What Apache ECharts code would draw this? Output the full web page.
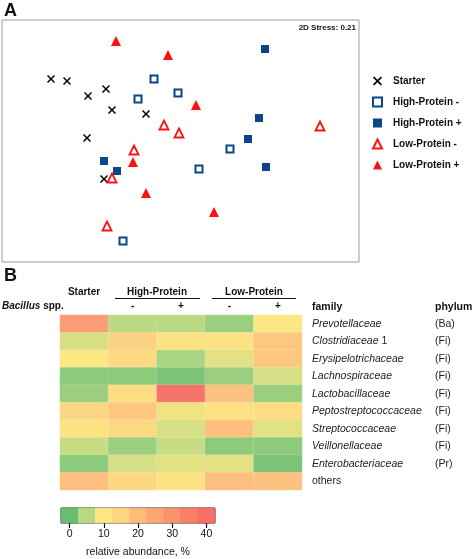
<!DOCTYPE html>
<html>
<head>
<meta charset="utf-8">
<script src="https://cdn.jsdelivr.net/npm/echarts@6/dist/echarts.min.js"></script>
<style>html,body{margin:0;padding:0;background:#fff;}#c{width:472px;height:559px;}</style>
</head>
<body>
<div id="c"></div>
<script>
// ---- Panel A: NMDS coordinates ----
const starter = [[-1.29,0.61],[-1.13,0.59],[-0.92,0.44],[-0.74,0.51],[-0.68,0.30],[-0.34,0.26],[-0.93,0.02],[-0.76,-0.39]];
const highProtMinus = [[-0.26,0.61],[-0.02,0.47],[-0.42,0.41],[0.50,-0.09],[0.19,-0.29],[-0.57,-1.01]];
const highProtPlus = [[-0.76,-0.21],[-0.63,-0.31],[0.85,0.91],[0.79,0.22],[0.68,0.01],[0.86,-0.27]];
const lowProtMinus = [[-0.16,0.15],[-0.01,0.07],[-0.46,-0.10],[-0.68,-0.38],[-0.73,-0.86],[1.40,0.14]];
const lowProtPlus = [[-0.64,0.99],[-0.12,0.85],[0.16,0.35],[-0.47,-0.22],[-0.34,-0.53],[0.34,-0.72]];
const groupNames = ['Starter','High-Protein -','High-Protein +','Low-Protein -','Low-Protein +'];

// ---- Panel B: heatmap ----
const columns = ['Starter','HP-','HP+','LP-','LP+'];
const signLabels = ['', '-', '+', '-', '+'];
const families = ['Prevotellaceae','Clostridiaceae 1','Erysipelotrichaceae','Lachnospiraceae','Lactobacillaceae','Peptostreptococcaceae','Streptococcaceae','Veillonellaceae','Enterobacteriaceae','others'];
const phyla = ['(Ba)','(Fi)','(Fi)','(Fi)','(Fi)','(Fi)','(Fi)','(Fi)','(Pr)',''];
// relative abundance (%) per family, columns: Starter, HP-, HP+, LP-, LP+
const abundance = [
  [28, 5, 5, 3, 10],
  [7, 16, 11, 11, 18],
  [10, 14, 4, 8, 18],
  [2, 2, 1, 3, 7],
  [3, 13, 40, 19, 3],
  [15, 18, 9, 12, 13],
  [11, 14, 7, 20, 8],
  [6, 3, 6, 2, 2],
  [2, 7, 8, 8, 1],
  [20, 15, 11, 20, 19]
];
const scaleSteps = ['0','5','10','15','20','25','30','35','40'];
const scaleColors = ['#62b96a','#b5d67b','#fde47a','#fdd27a','#fdb873','#fca26c','#f98c66','#f7795f','#f56760'];

const FONT = 'Liberation Sans, Arial, sans-serif';
const heatData = [];
abundance.forEach((row, r) => row.forEach((v, c) => heatData.push([c, r, v])));
const barData = scaleSteps.map((s, i) => [i, 0, Number(s)]);

const blue = '#0b458a', red = '#ff1010';
const xPath = 'path://M1.3,0 L5,3.7 L8.7,0 L10,1.3 L6.3,5 L10,8.7 L8.7,10 L5,6.3 L1.3,10 L0,8.7 L3.7,5 L0,1.3 Z';

const chart = echarts.init(document.getElementById('c'), null, {renderer: 'canvas'});
chart.setOption({
  animation: false,
  textStyle: {fontFamily: FONT},
  grid: [
    {left: 2, top: 20, width: 357, height: 242, show: true, borderColor: '#999', borderWidth: 1, backgroundColor: '#fff'},
    {left: 60, top: 315, width: 242, height: 175},
    {left: 61, top: 508, width: 154, height: 18, show: true, borderColor: '#222', borderWidth: 1}
  ],
  xAxis: [
    {gridIndex: 0, type: 'value', min: -1.78, max: 1.79, show: false},
    {gridIndex: 1, type: 'category', data: columns, position: 'top',
      axisLine: {show: false}, axisTick: {show: false},
      axisLabel: {margin: 4, fontWeight: 'bold', fontSize: 10, color: '#111',
        formatter: (v, i) => signLabels[i]}},
    {gridIndex: 2, type: 'category', data: scaleSteps, position: 'bottom',
      axisLine: {show: false},
      axisTick: {show: true, alignWithLabel: true, length: 5, lineStyle: {color: '#111', width: 1.2},
        interval: (i) => i % 2 === 0},
      axisLabel: {margin: 6, fontSize: 10.5, color: '#111', interval: (i) => i % 2 === 0},
      name: 'relative abundance, %', nameLocation: 'middle', nameGap: 24,
      nameTextStyle: {fontSize: 10.5, color: '#111'}}
  ],
  yAxis: [
    {gridIndex: 0, type: 'value', min: -1.22, max: 1.2, show: false},
    {gridIndex: 1, type: 'category', data: families, inverse: true, position: 'right',
      axisLine: {show: false}, axisTick: {show: false},
      axisLabel: {margin: 10, align: 'left', fontSize: 10.5, color: '#222',
        formatter: (v) => {
          if (v === 'others') return '{n|others}';
          const m = v.match(/^(\S+)(\s+\d+)$/);
          if (m) return '{i|' + m[1] + '}{n|' + m[2] + '}';
          return '{i|' + v + '}';
        },
        rich: {i: {fontStyle: 'italic', fontSize: 10.5, color: '#222', fontFamily: FONT},
               n: {fontSize: 10.5, color: '#222', fontFamily: FONT}}}},
    {gridIndex: 1, type: 'category', data: phyla, inverse: true, position: 'right', offset: 123,
      axisLine: {show: false}, axisTick: {show: false},
      axisLabel: {margin: 10, align: 'left', fontSize: 10.5, color: '#222'}},
    {gridIndex: 2, type: 'category', data: [''], show: false}
  ],
  visualMap: [{
    type: 'continuous', show: false, min: 0, max: 40, dimension: 2,
    seriesIndex: [5, 6], inRange: {color: scaleColors}
  }],
  legend: {
    orient: 'vertical', left: 367, top: 70, itemWidth: 9, itemHeight: 9, itemGap: 9,
    data: groupNames,
    textStyle: {fontSize: 10, lineHeight: 12, fontWeight: 'bold', color: '#111', fontFamily: FONT, padding: [0, 0, 0, 6]}
  },
  series: [
    {name: groupNames[0], type: 'scatter', xAxisIndex: 0, yAxisIndex: 0, data: starter,
      symbol: xPath, symbolSize: 8, itemStyle: {color: '#000', opacity: 1}},
    {name: groupNames[1], type: 'scatter', xAxisIndex: 0, yAxisIndex: 0, data: highProtMinus,
      symbol: 'rect', symbolSize: 7, itemStyle: {color: '#fff', borderColor: blue, borderWidth: 2, opacity: 1}},
    {name: groupNames[2], type: 'scatter', xAxisIndex: 0, yAxisIndex: 0, data: highProtPlus,
      symbol: 'rect', symbolSize: 8, itemStyle: {color: blue, opacity: 1}},
    {name: groupNames[3], type: 'scatter', xAxisIndex: 0, yAxisIndex: 0, data: lowProtMinus,
      symbol: 'triangle', symbolSize: 9, itemStyle: {color: '#fff', borderColor: red, borderWidth: 1.8, opacity: 1}},
    {name: groupNames[4], type: 'scatter', xAxisIndex: 0, yAxisIndex: 0, data: lowProtPlus,
      symbol: 'triangle', symbolSize: 10, itemStyle: {color: red, opacity: 1}},
    {type: 'heatmap', xAxisIndex: 1, yAxisIndex: 1, data: heatData,
      itemStyle: {borderColor: 'rgba(255,255,255,0.35)', borderWidth: 0.5, opacity: 0.92}},
    {type: 'heatmap', xAxisIndex: 2, yAxisIndex: 3, data: barData,
      itemStyle: {opacity: 0.95}}
  ],
  graphic: [
    {type: 'text', left: 4, top: 2, style: {text: 'A', font: 'bold 18px ' + FONT, fill: '#111'}},
    {type: 'text', left: 4, top: 267, style: {text: 'B', font: 'bold 18px ' + FONT, fill: '#111'}},
    {type: 'text', right: 116, top: 24, style: {text: '2D Stress: 0.21', font: 'bold 8px ' + FONT, fill: '#111', textAlign: 'right'}},
    {type: 'text', x: 84, y: 292, style: {text: 'Starter', font: 'bold 10px ' + FONT, fill: '#111', align: 'center', verticalAlign: 'middle'}},
    {type: 'text', x: 157, y: 292, style: {text: 'High-Protein', font: 'bold 10px ' + FONT, fill: '#111', align: 'center', verticalAlign: 'middle'}},
    {type: 'text', x: 254, y: 292, style: {text: 'Low-Protein', font: 'bold 10px ' + FONT, fill: '#111', align: 'center', verticalAlign: 'middle'}},
    {type: 'line', shape: {x1: 115, y1: 298.5, x2: 200, y2: 298.5}, style: {stroke: '#111', lineWidth: 1}},
    {type: 'line', shape: {x1: 212, y1: 298.5, x2: 296, y2: 298.5}, style: {stroke: '#111', lineWidth: 1}},
    {type: 'text', x: 2, y: 306, style: {rich: {b: {font: 'bold italic 10px ' + FONT, fill: '#111'}, n: {font: 'bold 10px ' + FONT, fill: '#111'}}, text: '{b|Bacillus}{n| spp.}', verticalAlign: 'middle'}},
    {type: 'text', x: 312, y: 307, style: {text: 'family', font: 'bold 10.5px ' + FONT, fill: '#111', verticalAlign: 'middle'}},
    {type: 'text', x: 435, y: 307, style: {text: 'phylum', font: 'bold 10.5px ' + FONT, fill: '#111', verticalAlign: 'middle'}}
  ]
});
</script>
</body>
</html>
